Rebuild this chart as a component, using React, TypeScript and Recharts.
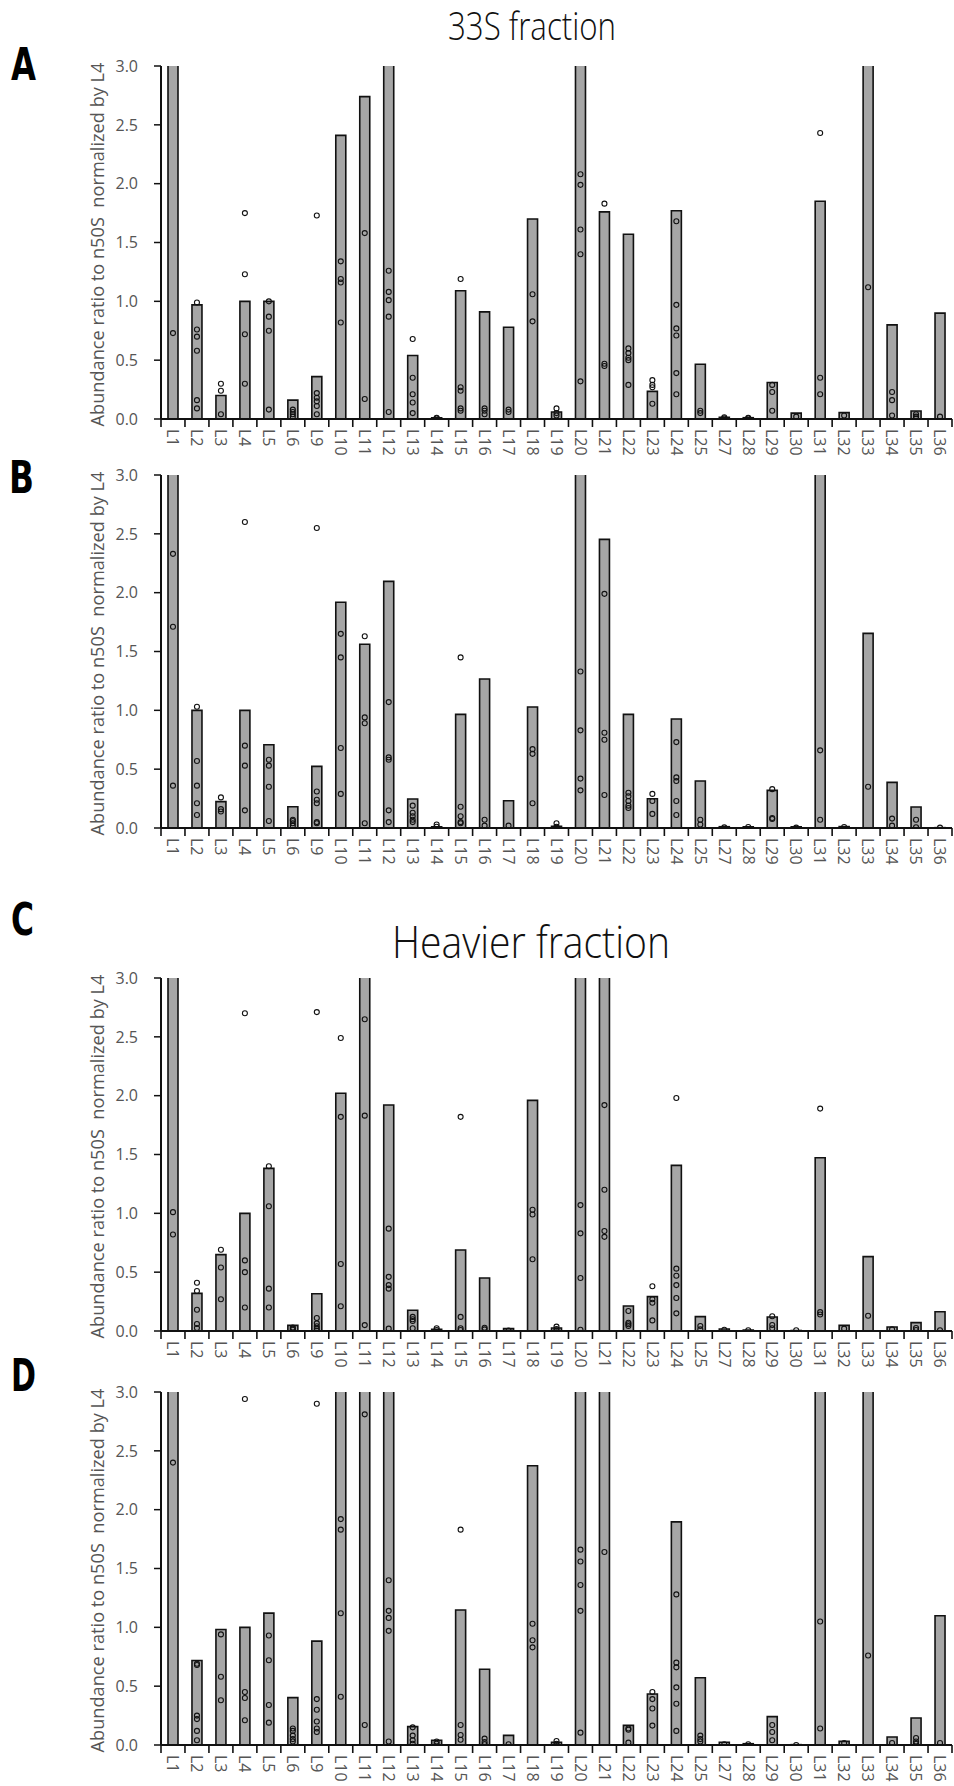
import React from "react";
import { ComposedChart, Bar, Scatter, XAxis, YAxis } from "recharts";

// ribosomal proteins on the x axis (L7, L8 and L26 are absent)
const cats = [
  "L1", "L2", "L3", "L4", "L5", "L6", "L9", "L10", "L11", "L12", "L13",
  "L14", "L15", "L16", "L17", "L18", "L19", "L20", "L21", "L22", "L23",
  "L24", "L25", "L27", "L28", "L29", "L30", "L31", "L32", "L33", "L34",
  "L35", "L36",
];

const yTicks = [0, 0.5, 1, 1.5, 2, 2.5, 3];

// A: 33S fraction, mean ratio per protein (bars) and replicate values (dots)
const barsA = [
  4.1, 0.97, 0.2, 1.0, 1.0, 0.16, 0.36, 2.41, 2.74, 3.6, 0.54, 0.01, 1.09,
  0.91, 0.78, 1.7, 0.06, 3.9, 1.76, 1.57, 0.235, 1.77, 0.465, 0.014, 0.011,
  0.31, 0.05, 1.85, 0.054, 4.4, 0.8, 0.068, 0.9,
];
const dotsA = [
  [0.73], [0.99, 0.76, 0.7, 0.58, 0.16, 0.09], [0.3, 0.24, 0.04],
  [1.75, 1.23, 0.72, 0.3], [1.0, 0.87, 0.75, 0.08], [0.08, 0.06, 0.04, 0.02],
  [1.73, 0.22, 0.18, 0.15, 0.11, 0.04], [1.34, 1.19, 1.16, 0.82], [1.58, 0.17],
  [1.26, 1.08, 1.01, 0.87, 0.06], [0.68, 0.35, 0.21, 0.14, 0.05], [0.01, 0.005],
  [1.19, 0.27, 0.24, 0.09, 0.07], [0.09, 0.07, 0.04], [0.08, 0.06], [1.06, 0.83],
  [0.09, 0.05, 0.03], [2.08, 1.99, 1.61, 1.4, 0.32], [1.83, 0.47, 0.45],
  [0.6, 0.56, 0.52, 0.5, 0.29], [0.33, 0.29, 0.27, 0.13],
  [1.68, 0.97, 0.77, 0.71, 0.39, 0.21], [0.07, 0.05], [0.015, 0.005],
  [0.01, 0.005], [0.29, 0.23, 0.07], [0.02], [2.43, 0.35, 0.21], [0.03], [1.12],
  [0.23, 0.16, 0.03], [0.04, 0.02, 0.005], [0.02],
];

// B: 33S fraction, second set
const barsB = [
  4.0, 1.0, 0.224, 1.0, 0.708, 0.181, 0.524, 1.918, 1.561, 2.096, 0.246, 0.01,
  0.966, 1.266, 0.232, 1.028, 0.014, 3.8, 2.453, 0.966, 0.249, 0.926, 0.399,
  0.011, 0.01, 0.32, 0.01, 4.2, 0.012, 1.654, 0.388, 0.178, 0.003,
];
const dotsB = [
  [2.33, 1.71, 0.36], [1.03, 0.57, 0.36, 0.21, 0.11], [0.26, 0.16, 0.14],
  [2.6, 0.7, 0.53, 0.15], [0.58, 0.53, 0.35, 0.06], [0.07, 0.06, 0.04, 0.02],
  [2.55, 0.31, 0.24, 0.21, 0.05, 0.04], [1.65, 1.45, 0.68, 0.29],
  [1.63, 0.94, 0.89, 0.04], [1.07, 0.6, 0.58, 0.15, 0.05],
  [0.19, 0.13, 0.1, 0.07, 0.05], [0.03, 0.01], [1.45, 0.18, 0.1, 0.05, 0.04],
  [0.07, 0.02], [0.02], [0.67, 0.63, 0.21], [0.04, 0.01, 0.003],
  [1.33, 0.83, 0.42, 0.32], [1.99, 0.81, 0.75, 0.28],
  [0.3, 0.27, 0.23, 0.19, 0.17], [0.29, 0.23, 0.12],
  [0.73, 0.43, 0.4, 0.23, 0.11], [0.07, 0.03], [0.005], [0.008],
  [0.33, 0.085, 0.076], [0.003], [0.66, 0.07], [0.008], [0.35], [0.08, 0.02],
  [0.07, 0.006], [0.003],
];

// C: heavier fraction
const barsC = [
  4.0, 0.32, 0.649, 1.0, 1.382, 0.048, 0.317, 2.02, 3.7, 1.921, 0.176, 0.014,
  0.688, 0.45, 0.02, 1.96, 0.025, 4.3, 3.9, 0.212, 0.292, 1.408, 0.122, 0.017,
  0.008, 0.119, 0.004, 1.473, 0.048, 0.632, 0.034, 0.071, 0.164,
];
const dotsC = [
  [1.01, 0.82], [0.41, 0.34, 0.18, 0.06, 0.025], [0.69, 0.54, 0.27],
  [2.7, 0.6, 0.5, 0.2], [1.4, 1.06, 0.36, 0.2], [0.03, 0.02, 0.01],
  [2.71, 0.11, 0.065, 0.04, 0.02, 0.003], [2.49, 1.82, 0.57, 0.21],
  [2.65, 1.83, 0.05], [0.87, 0.46, 0.39, 0.36, 0.02], [0.12, 0.1, 0.085, 0.023],
  [0.023, 0.008], [1.82, 0.12, 0.023, 0.008], [0.028, 0.014], [0.003],
  [1.03, 0.99, 0.61], [0.037, 0.017, 0.003], [1.07, 0.83, 0.45, 0.01],
  [1.92, 1.2, 0.85, 0.8], [0.17, 0.07, 0.057, 0.042], [0.38, 0.27, 0.24, 0.09],
  [1.98, 0.53, 0.47, 0.39, 0.28, 0.15], [0.042, 0.014], [0.011], [0.006],
  [0.125, 0.051, 0.023], [0.006], [1.89, 0.16, 0.14], [0.02], [0.13], [0.014],
  [0.025, 0.008], [0.006],
];

// D: heavier fraction, second set
const barsD = [
  4.1, 0.718, 0.982, 1.0, 1.121, 0.403, 0.883, 3.8, 3.9, 3.5, 0.156, 0.04,
  1.147, 0.644, 0.082, 2.373, 0.023, 4.0, 3.6, 0.167, 0.434, 1.896, 0.571,
  0.023, 0.011, 0.241, 0.003, 4.4, 0.031, 3.7, 0.068, 0.23, 1.099,
];
const dotsD = [
  [2.4], [0.69, 0.68, 0.25, 0.22, 0.12, 0.04], [0.94, 0.58, 0.38],
  [2.94, 0.45, 0.4, 0.21], [0.93, 0.72, 0.34, 0.19], [0.14, 0.12, 0.08, 0.05, 0.03],
  [2.9, 0.39, 0.3, 0.2, 0.14, 0.11], [1.92, 1.83, 1.12, 0.41], [2.81, 0.17],
  [1.4, 1.14, 1.08, 0.97, 0.03], [0.15, 0.08, 0.04, 0.01], [0.03, 0.01],
  [1.83, 0.17, 0.085, 0.045], [0.054, 0.026, 0.006], [0.006], [1.03, 0.89, 0.83],
  [0.034, 0.011, 0.002], [1.66, 1.56, 1.36, 1.14, 0.105], [1.64],
  [0.14, 0.13, 0.02], [0.45, 0.39, 0.31, 0.165],
  [1.28, 0.7, 0.66, 0.49, 0.35, 0.12], [0.08, 0.05, 0.03], [0.006], [0.006],
  [0.17, 0.11, 0.04], [0.0], [1.05, 0.14], [0.017], [0.76], [0.017],
  [0.06, 0.03, 0.01], [0.017],
];

const FONT = "'Open Sans', 'Noto Sans', sans-serif";
const W = 954;
const PLOT_LEFT = 161;
const PLOT_RIGHT = 2;
const TOP = 10;
const PLOT_H = 353;
const X_AXIS_H = 60;
const BAND = (W - PLOT_LEFT - PLOT_RIGHT) / cats.length;
const dotKeys = ["r0", "r1", "r2", "r3", "r4", "r5"];

function buildRows(bars: number[], dots: number[][]) {
  return cats.map((name, i) => {
    const row: Record<string, any> = { name, mean: bars[i] };
    dotKeys.forEach((k, j) => {
      row[k] = dots[i][j] ?? null;
    });
    return row;
  });
}

const makeDot = (key: string) => (props: any) => {
  if (!props.payload || props.payload[key] == null || props.cy == null) return <g />;
  return (
    <circle cx={props.cx} cy={props.cy} r={2.5} fill="none" stroke="#111" strokeWidth={1.1} />
  );
};

function XTick({ x, index, payload }: any) {
  const y0 = TOP + PLOT_H;
  const ty = y0 + 10;
  return (
    <g>
      <line x1={x - BAND / 2} x2={x - BAND / 2} y1={y0} y2={y0 + 8} stroke="#111" strokeWidth={1.6} />
      {index === cats.length - 1 && (
        <line x1={x + BAND / 2} x2={x + BAND / 2} y1={y0} y2={y0 + 8} stroke="#111" strokeWidth={1.6} />
      )}
      <text
        x={x}
        y={ty}
        dy="0.36em"
        transform={`rotate(90, ${x}, ${ty})`}
        fill="#555"
        fontSize={16}
        fontFamily={FONT}
      >
        {payload.value}
      </text>
    </g>
  );
}

function YLabel() {
  const cy = TOP + PLOT_H / 2 + 2;
  const bx = 103.5;
  return (
    <text
      x={bx}
      y={cy}
      textAnchor="middle"
      transform={`rotate(-90, ${bx}, ${cy})`}
      fill="#555"
      fontSize={18}
      fontFamily={FONT}
      textLength={364}
      lengthAdjust="spacingAndGlyphs"
      style={{ whiteSpace: "pre" }}
    >
      Abundance ratio to n50S  normalized by L4
    </text>
  );
}

function Panel({ bars, dots, top }: { bars: number[]; dots: number[][]; top: number }) {
  const rows = buildRows(bars, dots);
  return (
    <div style={{ position: "absolute", left: 0, top }}>
      <ComposedChart
        width={W}
        height={TOP + PLOT_H + X_AXIS_H}
        data={rows}
        margin={{ top: TOP, right: PLOT_RIGHT, left: 0, bottom: 0 }}
      >
        <XAxis
          dataKey="name"
          interval={0}
          tickLine={false}
          axisLine={{ stroke: "#111", strokeWidth: 2 }}
          height={X_AXIS_H}
          tick={(p: any) => <XTick {...p} />}
        />
        <YAxis
          type="number"
          domain={[0, 3]}
          allowDataOverflow
          ticks={yTicks}
          interval={0}
          tickFormatter={(v: number) => v.toFixed(1)}
          width={PLOT_LEFT}
          tickSize={7}
          tickMargin={16}
          axisLine={{ stroke: "#111", strokeWidth: 2 }}
          tickLine={{ stroke: "#111", strokeWidth: 1.5 }}
          tick={{ fill: "#555", fontSize: 16, fontFamily: FONT }}
          label={{ content: () => <YLabel /> }}
        />
        <Bar
          dataKey="mean"
          barSize={10}
          fill="#a6a6a6"
          stroke="#111"
          strokeWidth={1.6}
          isAnimationActive={false}
        />
        {dotKeys.map((k) => (
          <Scatter key={k} dataKey={k} shape={makeDot(k)} isAnimationActive={false} />
        ))}
      </ComposedChart>
    </div>
  );
}

export default function App() {
  const bold = "'DejaVu Sans', sans-serif";
  return (
    <div style={{ position: "absolute", left: 0, top: 0, width: W, height: 1786, background: "#fff" }}>
      <Panel bars={barsA} dots={dotsA} top={56} />
      <Panel bars={barsB} dots={dotsB} top={465} />
      <Panel bars={barsC} dots={dotsC} top={968} />
      <Panel bars={barsD} dots={dotsD} top={1382} />
      <svg
        width={W}
        height={1786}
        style={{ position: "absolute", left: 0, top: 0, pointerEvents: "none" }}
      >
        <text x={532} y={40} textAnchor="middle" fontSize={38} fontWeight={300} fontFamily={FONT}
          fill="#111" textLength={168} lengthAdjust="spacingAndGlyphs">33S fraction</text>
        <text x={531} y={958} textAnchor="middle" fontSize={45} fontWeight={300} fontFamily={FONT}
          fill="#111" textLength={278} lengthAdjust="spacingAndGlyphs">Heavier fraction</text>
        <text x={11} y={80} fontSize={44} fontWeight="bold" fontFamily={bold} fill="#000"
          textLength={25} lengthAdjust="spacingAndGlyphs">A</text>
        <text x={9} y={493} fontSize={44} fontWeight="bold" fontFamily={bold} fill="#000"
          textLength={25} lengthAdjust="spacingAndGlyphs">B</text>
        <text x={11} y={935} fontSize={44} fontWeight="bold" fontFamily={bold} fill="#000"
          textLength={23} lengthAdjust="spacingAndGlyphs">C</text>
        <text x={11} y={1391} fontSize={44} fontWeight="bold" fontFamily={bold} fill="#000"
          textLength={25} lengthAdjust="spacingAndGlyphs">D</text>
      </svg>
    </div>
  );
}
